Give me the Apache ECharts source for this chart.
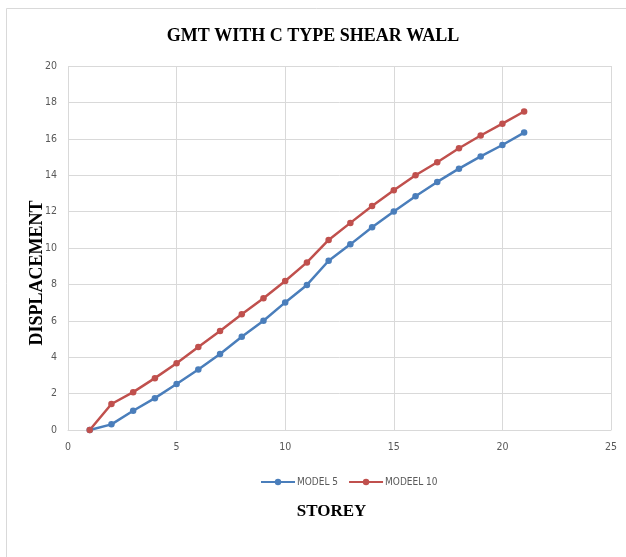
<!DOCTYPE html>
<html>
<head>
<meta charset="utf-8">
<script src="https://cdn.jsdelivr.net/npm/echarts@6/dist/echarts.min.js"></script>
<style>
html,body{margin:0;padding:0;background:#fff;}
#chart{width:626px;height:557px;}
</style>
</head>
<body>
<div id="chart"></div>
<script>
var titleText = 'GMT WITH C TYPE SHEAR WALL';
var xAxisName = 'STOREY';
var yAxisName = 'DISPLACEMENT';
var storeys = [1,2,3,4,5,6,7,8,9,10,11,12,13,14,15,16,17,18,19,20,21];
var model5 = [0,0.31,1.06,1.75,2.53,3.32,4.18,5.12,6.0,7.01,7.97,9.3,10.2,11.14,12.01,12.84,13.63,14.36,15.03,15.66,16.34];
var model10 = [0,1.43,2.08,2.85,3.67,4.56,5.44,6.36,7.24,8.19,9.21,10.44,11.38,12.31,13.17,14.0,14.71,15.48,16.18,16.83,17.5];
var seriesNames = ['MODEL 5','MODEEL 10'];

function pairs(xs, ys){ return xs.map(function(x,i){ return [x, ys[i]]; }); }

var narrow = '"DejaVu Sans Condensed", "Liberation Sans Narrow", "Liberation Sans", sans-serif';
var serif = '"Liberation Serif", "Times New Roman", serif';

var chart = echarts.init(document.getElementById('chart'));
chart.setOption({
  animation: false,
  backgroundColor: '#fff',
  graphic: [{
    type: 'rect', silent: true, z: -1,
    shape: {x: 6.5, y: 8.5, width: 640, height: 560},
    style: {fill: 'none', stroke: '#d9d9d9', lineWidth: 1}
  },{
    type: 'text', silent: true,
    x: 37, y: 273, rotation: Math.PI / 2,
    style: {
      text: yAxisName, fontFamily: serif, fontWeight: 'bold', fontSize: 18,
      fill: '#000', align: 'center', verticalAlign: 'middle'
    }
  }],
  title: {
    text: titleText, left: 'center', top: 22,
    textStyle: {fontFamily: serif, fontWeight: 'bold', fontSize: 18, color: '#000'}
  },
  legend: {
    data: seriesNames, bottom: 65, left: 255,
    itemWidth: 34, itemHeight: 8, itemGap: 10,
    textStyle: {fontFamily: narrow, fontSize: 10, color: '#595959', padding: [0,0,0,-3]}
  },
  grid: {left: 68, right: 15, top: 66, bottom: 127, containLabel: false},
  xAxis: {
    type: 'value', min: 0, max: 25, interval: 5,
    name: xAxisName, nameLocation: 'middle', nameGap: 73,
    nameTextStyle: {fontFamily: serif, fontWeight: 'bold', fontSize: 17, color: '#000', padding: [0, 16, 0, 0]},
    axisLine: {show: true, lineStyle: {color: '#d9d9d9'}},
    axisTick: {show: false},
    axisLabel: {fontFamily: narrow, fontSize: 10.5, color: '#595959', margin: 12},
    splitLine: {show: true, lineStyle: {color: '#d9d9d9'}}
  },
  yAxis: {
    type: 'value', min: 0, max: 20, interval: 2,
    axisLine: {show: false},
    axisTick: {show: false},
    axisLabel: {fontFamily: narrow, fontSize: 10.5, color: '#595959', margin: 11},
    splitLine: {show: true, lineStyle: {color: '#d9d9d9'}}
  },
  series: [{
    name: seriesNames[0], type: 'line', data: pairs(storeys, model5),
    symbol: 'circle', symbolSize: 6.5, showSymbol: true,
    lineStyle: {width: 2.5, color: '#4a7ebb'}, itemStyle: {color: '#4a7ebb'}
  },{
    name: seriesNames[1], type: 'line', data: pairs(storeys, model10),
    symbol: 'circle', symbolSize: 6.5, showSymbol: true,
    lineStyle: {width: 2.5, color: '#c0504d'}, itemStyle: {color: '#c0504d'}
  }]
});
</script>
</body>
</html>
